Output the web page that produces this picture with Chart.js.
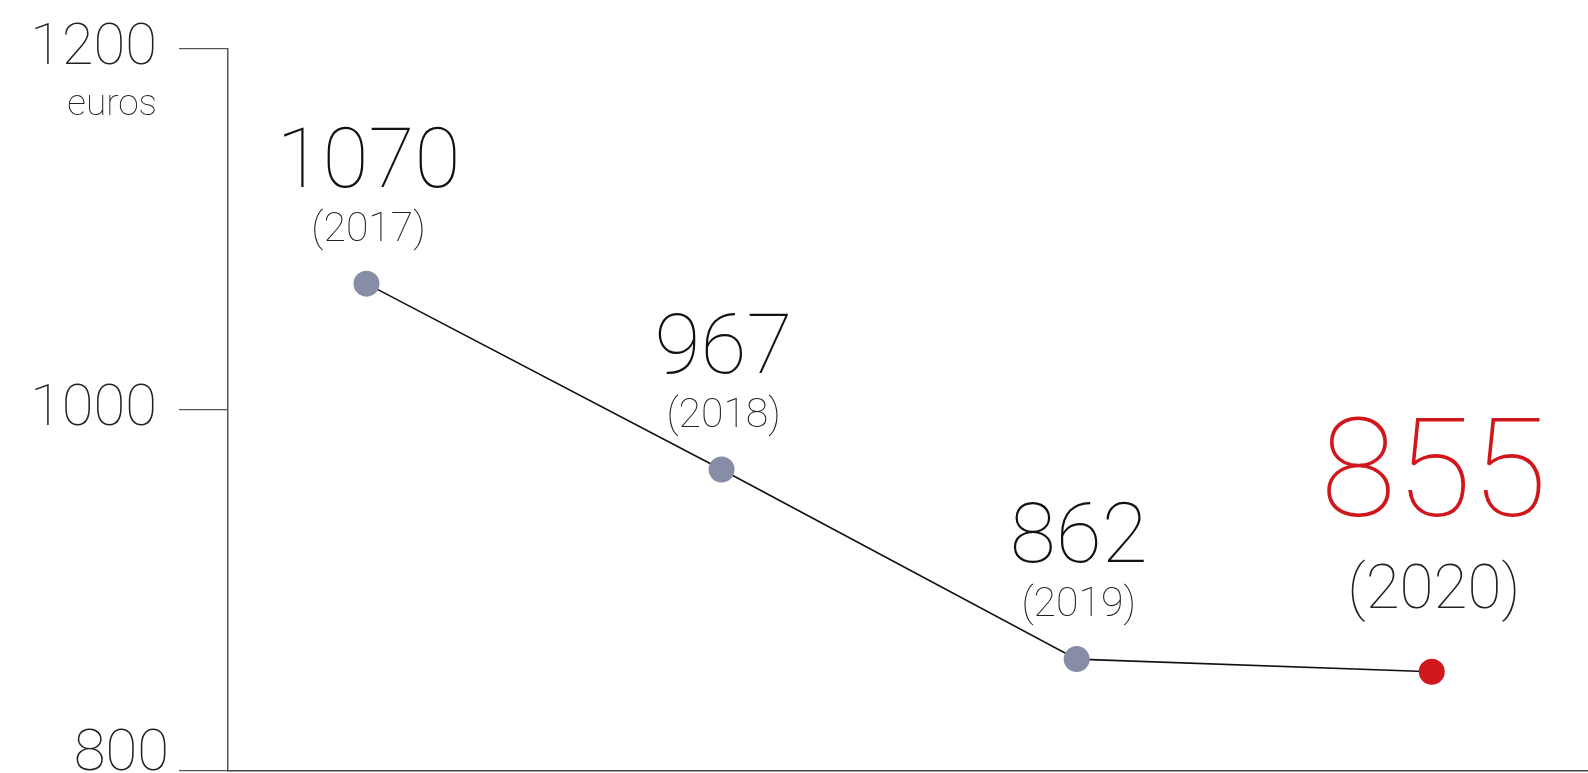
<!DOCTYPE html>
<html>
<head>
<meta charset="utf-8">
<script src="https://cdn.jsdelivr.net/npm/chart.js@4/dist/chart.umd.min.js"></script>
<style>
  html, body { margin: 0; padding: 0; background: #fff; }
  #wrap { width: 1588px; height: 773px; }
</style>
</head>
<body>
<div id="wrap"><canvas id="chartCanvas" width="1588" height="773"></canvas></div>
<script>
const years = [2017, 2018, 2019, 2020];
const values = [1070, 967, 862, 855];
const yTicks = [800, 1000, 1200];
const unitLabel = "euros";
const highlightIndex = 3;

const GRAY = "#878ca7";
const RED = "#d0181c";
const FONT = "Roboto";

// etiquetas encima de cada punto
const pointLabels = {
    id: "pointLabels",
    afterDatasetsDraw(chart) {
        const ctx = chart.ctx;
        const meta = chart.getDatasetMeta(0);
        ctx.save();
        ctx.textAlign = "center";
        ctx.textBaseline = "alphabetic";
        meta.data.forEach((pt, i) => {
            const big = i === highlightIndex;
            ctx.fillStyle = big ? RED : "#111";
            ctx.font = (big ? "100 138px " : "100 84px ") + FONT;
            ctx.fillText(String(values[i]), pt.x + 2, pt.y - (big ? 156 : 97));
            ctx.fillStyle = "#222";
            ctx.font = (big ? "100 62px " : "100 41px ") + FONT;
            ctx.fillText("(" + years[i] + ")", pt.x + 2, pt.y - (big ? 64 : 43));
        });
        ctx.restore();
    }
};

// etiquetas del eje y
const yTickLabels = {
    id: "yTickLabels",
    afterDraw(chart) {
        const ctx = chart.ctx;
        const y = chart.scales.y;
        ctx.save();
        ctx.fillStyle = "#222";
        ctx.textAlign = "right";
        ctx.textBaseline = "middle";
        ctx.font = "100 58px " + FONT;
        yTicks.forEach((v) => {
            const py = y.getPixelForValue(v);
            if (v === y.min) {
                ctx.fillText(String(v), 169, py - 16);
            } else {
                ctx.fillText(String(v), 157, py);
            }
        });
        ctx.font = "100 37px " + FONT;
        ctx.fillStyle = "#222";
        ctx.textBaseline = "alphabetic";
        ctx.fillText(unitLabel, 157, y.getPixelForValue(y.max) + 66);
        ctx.restore();
    }
};

const ctx = document.getElementById("chartCanvas").getContext("2d");
new Chart(ctx, {
    type: "line",
    plugins: [pointLabels, yTickLabels],
    data: {
        datasets: [
            {
                data: years.map((yr, i) => ({ x: yr, y: values[i] })),
                borderColor: "#111",
                borderWidth: 1.6,
                tension: 0,
                pointRadius: 13,
                pointHoverRadius: 13,
                pointBorderWidth: 0,
                pointBackgroundColor: years.map((yr, i) => i === highlightIndex ? RED : GRAY),
            },
        ],
    },
    options: {
        responsive: false,
        animation: false,
        layout: { autoPadding: false, padding: { top: 49, bottom: 0, left: 0, right: 0 } },
        plugins: {
            legend: { display: false },
            tooltip: { enabled: false },
        },
        scales: {
            x: {
                type: "linear",
                min: 2016.61,
                max: 2020.44,
                ticks: { display: false },
                grid: { display: false, drawTicks: false },
                border: { display: true, color: "#444", width: 1.5 },
                afterFit(scale) { scale.height = 2; },
            },
            y: {
                min: 800,
                max: 1200,
                afterBuildTicks(scale) { scale.ticks = yTicks.map((v) => ({ value: v })); },
                ticks: { display: false },
                grid: {
                    drawOnChartArea: false,
                    drawTicks: true,
                    tickLength: 49,
                    color: "#555",
                    lineWidth: 1.2,
                },
                border: { display: true, color: "#555", width: 1.5 },
                afterFit(scale) { scale.width = 228; },
            },
        },
    },
});
</script>
</body>
</html>
